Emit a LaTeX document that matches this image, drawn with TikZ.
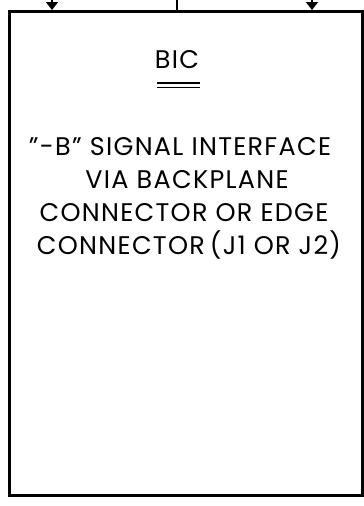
\documentclass[tikz,border=0pt]{standalone}
\usepackage{fontspec}
\setmainfont{Poppins}[LetterSpace=5]
\usetikzlibrary{positioning,arrows.meta}

\tikzset{
	boxline/.style={line width=2.6pt},
	sigline/.style={line width=1.6pt},
	inarrow/.style={sigline,-{Triangle[width=12pt,length=8pt]}},
	bictext/.style={font=\fontsize{25.5}{33}\selectfont,align=center,inner sep=0pt,anchor=base}
}

\begin{document}
\begin{tikzpicture}[x=1pt,y=-1pt]
	\useasboundingbox (0,0) rectangle (364,506);
	\newcommand\Stub[1]{(bic.east |- 0,#1) -- (364,#1)}

	% the board interface box
	\node[boxline,draw,minimum width=353pt,minimum height=484pt,anchor=north west] (bic) at (8,10) {};
	\node[bictext] (title) at (177,68) {BIC};
	\draw[line width=1.4pt] (157,83) -- (200,83);
	\draw[line width=1.4pt] (157,87.5) -- (200,87.5);

	\node[bictext] (l1) at (180,155) {\symbol{34}-B\symbol{34} SIGNAL INTERFACE};
	\node[bictext] (l2) at (187,188) {VIA BACKPLANE};
	\node[bictext] (l3) at (184,221) {CONNECTOR OR EDGE};
	\node[bictext] (l4) at (189,254) {CONNECTOR\hspace{-3pt} (J1 OR J2)};

	% lines coming in from above
	\coordinate (inA) at (52,-2);
	\coordinate (inB) at (312,-2);
	\coordinate (inC) at (177,-2);
	\draw[inarrow] (inA) -- (inA |- bic.north);
	\draw[inarrow] (inB) -- (inB |- bic.north);
	\draw[sigline] (inC) -- (inC |- bic.north);

	% lines leaving on the right
	\draw[sigline] \Stub{150};
	\draw[sigline] \Stub{205};
	\draw[sigline] \Stub{257};
\end{tikzpicture}
\end{document}
